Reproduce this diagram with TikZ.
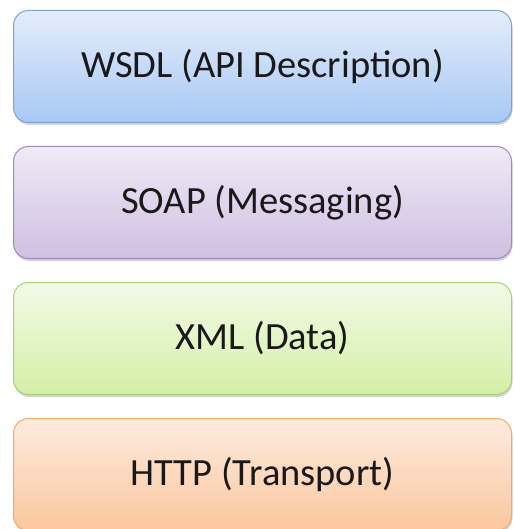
\documentclass[tikz,border=0pt]{standalone}
\usepackage{fontspec}
\setmainfont{Carlito}
\usetikzlibrary{positioning,shadows}

\definecolor{wsdlTop}{HTML}{E4EDFB}
\definecolor{wsdlBot}{HTML}{A8C8F4}
\definecolor{wsdlLine}{HTML}{7FA2D4}
\definecolor{soapTop}{HTML}{F0EAF6}
\definecolor{soapBot}{HTML}{D0BFE2}
\definecolor{soapLine}{HTML}{9F8AC0}
\definecolor{xmlTop}{HTML}{F3FAE8}
\definecolor{xmlBot}{HTML}{D4EFA6}
\definecolor{xmlLine}{HTML}{A9CF72}
\definecolor{httpTop}{HTML}{FDEBDF}
\definecolor{httpBot}{HTML}{FBC79E}
\definecolor{httpLine}{HTML}{F3A76A}

\tikzset{
  layer/.style={rounded corners=15pt, minimum width=498pt, minimum height=112pt,
    line width=1pt, font=\fontsize{38.5}{44}\selectfont, text=black!90,
    drop shadow={shadow xshift=1pt, shadow yshift=-2.5pt, opacity=.35}},
}

\begin{document}
\begin{tikzpicture}[x=1pt,y=1pt]
  \useasboundingbox (0,0) rectangle (514,-529);

  \node[layer, draw=wsdlLine, top color=wsdlTop, bottom color=wsdlBot]
    (wsdl) at (262.5,-66.5) {WSDL (API Description)};
  \node[layer, draw=soapLine, top color=soapTop, bottom color=soapBot,
    below=23pt of wsdl] (soap) {SOAP (Messaging)};
  \node[layer, draw=xmlLine, top color=xmlTop, bottom color=xmlBot,
    below=23pt of soap] (xml) {XML (Data)};
  \node[layer, draw=httpLine, top color=httpTop, bottom color=httpBot,
    below=23pt of xml] (http) {HTTP (Transport)};
\end{tikzpicture}
\end{document}
